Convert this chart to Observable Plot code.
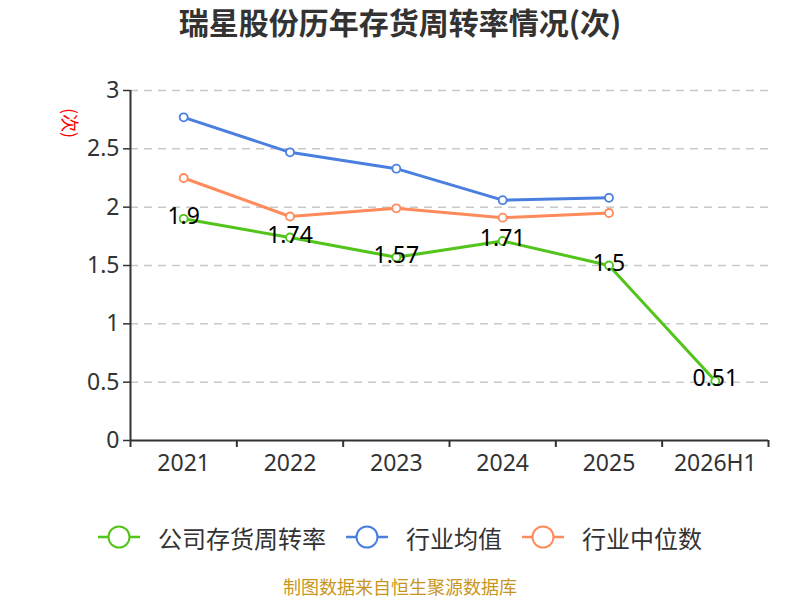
<!DOCTYPE html>
<html>
<head>
<meta charset="utf-8">
<script src="https://cdn.jsdelivr.net/npm/d3@7"></script>
<script src="https://cdn.jsdelivr.net/npm/@observablehq/plot@0.6"></script>
<style>
  body { margin: 0; background: #fff; font-family: "Noto Sans CJK SC", "Noto Sans", sans-serif; }
  #wrap { width: 800px; height: 600px; position: relative; overflow: hidden; }
  #title { height: 50px; line-height: 42px; text-align: center; font-size: 30px; font-weight: bold; color: #333; }
  #chart svg { display: block; }
  #legend { height: 74px; display: flex; justify-content: center; align-items: center; gap: 20px; font-size: 24px; color: #333; }
  .li { display: flex; align-items: center; gap: 18px; }
  #footer { position: absolute; left: 0; right: 0; bottom: 0; text-align: center; font-size: 18px; color: #C8961E; line-height: 27px; }
  #ylab { position: absolute; left: 56px; top: 110px; color: red; font-size: 18px; transform: rotate(90deg); transform-origin: center; }
</style>
</head>
<body>
<div id="wrap">
  <div id="title">瑞星股份历年存货周转率情况(次)</div>
  <div id="chart"></div>
  <div id="legend"></div>
  <div id="footer">制图数据来自恒生聚源数据库</div>
  <div id="ylab">(次)</div>
</div>
<script>
const years = ["2021", "2022", "2023", "2024", "2025", "2026H1"];
const company = [1.9, 1.74, 1.57, 1.71, 1.5, 0.51];
const industryMean = [2.77, 2.47, 2.33, 2.06, 2.08];
const industryMedian = [2.25, 1.92, 1.99, 1.91, 1.95];
const yTicks = [0, 0.5, 1, 1.5, 2, 2.5, 3];

const seriesNames = ["公司存货周转率", "行业均值", "行业中位数"];
const colors = ["#52C41A", "#4A7FE0", "#FF8A5B"];

const rows = [];
[company, industryMean, industryMedian].forEach((arr, s) => {
  arr.forEach((v, i) => rows.push({series: seriesNames[s], idx: i + 0.5, value: v}));
});
const companyRows = rows.filter(d => d.series === seriesNames[0]);

const chart = Plot.plot({
  width: 800,
  height: 450,
  marginTop: 40,
  marginLeft: 130,
  marginRight: 32,
  marginBottom: 60,
  style: {fontFamily: "'Noto Sans', 'Noto Sans CJK SC', sans-serif", background: "transparent"},
  x: {domain: [0, years.length], axis: null, label: null},
  y: {domain: [0, 3], axis: null, label: null},
  color: {domain: seriesNames, range: colors},
  marks: [
    Plot.gridY(yTicks.filter(t => t > 0), {stroke: "#c8c8c8", strokeOpacity: 1, strokeWidth: 1.5, strokeDasharray: "8,6"}),
    Plot.axisY({ticks: yTicks, label: null, tickSize: 7, tickPadding: 4, fontSize: 23, color: "#333", tickFormat: d => String(d), stroke: "#333", strokeWidth: 1.5}),
    Plot.ruleX([0], {stroke: "#333", strokeWidth: 2}),
    Plot.ruleY([0], {stroke: "#333", strokeWidth: 2}),
    Plot.axisX({ticks: d3.range(years.length + 1), label: null, tickSize: 7, tickFormat: () => "", stroke: "#333", strokeWidth: 2}),
    Plot.axisX({ticks: years.map((_, i) => i + 0.5), label: null, tickSize: 0, tickPadding: 14, fontSize: 23, color: "#333", tickFormat: d => years[Math.floor(d)]}),
    Plot.line(rows, {x: "idx", y: "value", z: "series", stroke: "series", strokeWidth: 3}),
    Plot.dot(rows, {x: "idx", y: "value", stroke: "series", fill: "white", r: 4, strokeWidth: 1.8}),
    Plot.text(companyRows, {x: "idx", y: "value", text: d => String(d.value), fontSize: 23, fill: "#000", dy: -2})
  ]
});
document.getElementById("chart").appendChild(chart);

const legend = document.getElementById("legend");
seriesNames.forEach((name, i) => {
  const item = document.createElement("div");
  item.className = "li";
  item.innerHTML = `<svg width="42" height="26"><line x1="0" y1="13" x2="42" y2="13" stroke="${colors[i]}" stroke-width="2.5"/><circle cx="21" cy="13" r="10.5" fill="white" stroke="${colors[i]}" stroke-width="2"/></svg><span>${name}</span>`;
  legend.appendChild(item);
});
</script>
</body>
</html>
